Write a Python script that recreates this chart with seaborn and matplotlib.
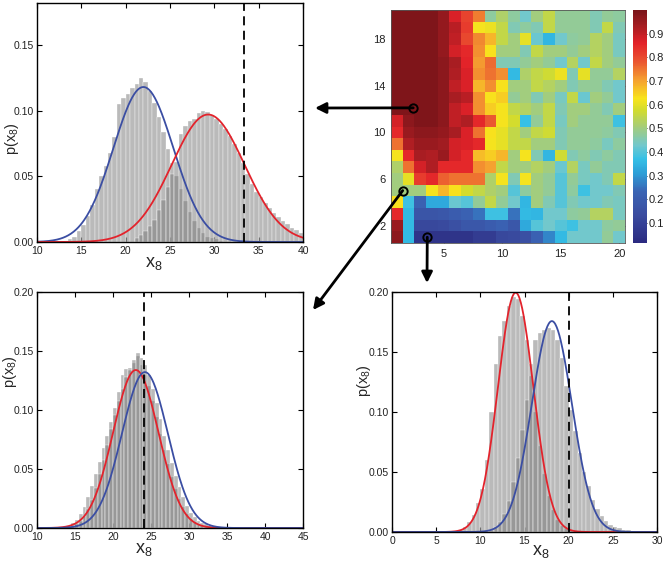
import numpy as np
import matplotlib
matplotlib.use('Agg')
import matplotlib.pyplot as plt
from matplotlib.colors import LinearSegmentedColormap
import seaborn as sns

# heatmap values, rows from y=20 (top) down to y=1, columns x=1..20
hm_rows = [
    [0.99, 0.99, 0.99, 0.99, 0.96, 0.87, 0.81, 0.74, 0.47, 0.52, 0.47, 0.43, 0.50, 0.55, 0.48, 0.48, 0.48, 0.45, 0.48, 0.47],
    [0.99, 0.99, 0.99, 0.99, 0.96, 0.91, 0.82, 0.62, 0.61, 0.55, 0.45, 0.47, 0.45, 0.55, 0.48, 0.48, 0.48, 0.45, 0.55, 0.45],
    [0.99, 0.99, 0.99, 0.99, 0.96, 0.90, 0.80, 0.73, 0.68, 0.55, 0.50, 0.60, 0.42, 0.35, 0.43, 0.47, 0.48, 0.53, 0.50, 0.44],
    [0.99, 0.99, 0.99, 0.99, 0.96, 0.88, 0.85, 0.72, 0.63, 0.50, 0.50, 0.45, 0.55, 0.50, 0.50, 0.48, 0.50, 0.53, 0.50, 0.44],
    [0.99, 0.99, 0.99, 0.99, 0.97, 0.93, 0.86, 0.71, 0.76, 0.45, 0.45, 0.48, 0.50, 0.48, 0.43, 0.53, 0.43, 0.55, 0.50, 0.48],
    [0.99, 0.99, 0.99, 0.99, 0.97, 0.92, 0.87, 0.72, 0.75, 0.72, 0.36, 0.52, 0.55, 0.57, 0.61, 0.45, 0.60, 0.48, 0.48, 0.53],
    [0.99, 0.99, 0.99, 0.99, 0.97, 0.90, 0.87, 0.68, 0.72, 0.63, 0.50, 0.50, 0.55, 0.53, 0.50, 0.45, 0.48, 0.48, 0.45, 0.43],
    [0.99, 0.99, 0.99, 0.99, 0.97, 0.93, 0.91, 0.72, 0.63, 0.65, 0.48, 0.50, 0.45, 0.50, 0.44, 0.55, 0.42, 0.50, 0.48, 0.43],
    [0.99, 0.99, 0.99, 0.99, 0.97, 0.90, 0.87, 0.72, 0.65, 0.62, 0.55, 0.53, 0.50, 0.55, 0.45, 0.50, 0.50, 0.48, 0.45, 0.50],
    [0.88, 0.97, 0.99, 0.99, 0.97, 0.90, 0.92, 0.85, 0.78, 0.62, 0.58, 0.37, 0.48, 0.55, 0.44, 0.50, 0.48, 0.48, 0.48, 0.38],
    [0.85, 0.95, 0.97, 0.97, 0.96, 0.93, 0.87, 0.75, 0.63, 0.60, 0.55, 0.50, 0.55, 0.57, 0.45, 0.48, 0.48, 0.48, 0.47, 0.45],
    [0.75, 0.92, 0.95, 0.95, 0.94, 0.88, 0.87, 0.85, 0.62, 0.60, 0.55, 0.55, 0.50, 0.50, 0.45, 0.48, 0.48, 0.47, 0.44, 0.47],
    [0.62, 0.85, 0.93, 0.92, 0.95, 0.88, 0.85, 0.67, 0.65, 0.68, 0.50, 0.62, 0.45, 0.35, 0.57, 0.45, 0.47, 0.45, 0.47, 0.45],
    [0.52, 0.75, 0.88, 0.92, 0.85, 0.85, 0.85, 0.72, 0.70, 0.55, 0.50, 0.50, 0.53, 0.50, 0.42, 0.53, 0.44, 0.48, 0.45, 0.45],
    [0.50, 0.60, 0.82, 0.85, 0.77, 0.75, 0.75, 0.75, 0.52, 0.62, 0.45, 0.62, 0.50, 0.48, 0.40, 0.48, 0.44, 0.43, 0.45, 0.55],
    [0.50, 0.50, 0.50, 0.62, 0.68, 0.63, 0.58, 0.55, 0.52, 0.50, 0.40, 0.47, 0.50, 0.48, 0.40, 0.47, 0.38, 0.43, 0.43, 0.45],
    [0.63, 0.38, 0.22, 0.33, 0.33, 0.42, 0.40, 0.48, 0.55, 0.48, 0.43, 0.35, 0.50, 0.45, 0.40, 0.45, 0.43, 0.43, 0.45, 0.44],
    [0.85, 0.36, 0.17, 0.17, 0.18, 0.20, 0.22, 0.25, 0.38, 0.38, 0.25, 0.36, 0.35, 0.43, 0.43, 0.47, 0.48, 0.53, 0.53, 0.44],
    [0.95, 0.36, 0.12, 0.12, 0.13, 0.15, 0.18, 0.18, 0.20, 0.22, 0.18, 0.33, 0.40, 0.43, 0.40, 0.38, 0.43, 0.43, 0.47, 0.48],
    [0.97, 0.36, 0.05, 0.05, 0.05, 0.05, 0.05, 0.08, 0.08, 0.12, 0.13, 0.15, 0.22, 0.28, 0.36, 0.43, 0.43, 0.43, 0.48, 0.43],
]
hm_xticks = [5, 10, 15, 20]
hm_yticks = [2, 6, 10, 14, 18]
cbar_ticks = [0.1, 0.2, 0.3, 0.4, 0.5, 0.6, 0.7, 0.8, 0.9]

# cells picked out on the heatmap (x, y), one per histogram panel
sel_x = [2.4, 1.5, 3.6]
sel_y = [12.1, 5.0, 1.0]

bin_w = 0.5

# top left panel
a_start = [13.0, 21.0]
a_hist_1 = [0.001, 0.002, 0.004, 0.008, 0.013, 0.020, 0.028, 0.040, 0.050, 0.058, 0.068, 0.080,
            0.105, 0.110, 0.113, 0.117, 0.120, 0.125, 0.122, 0.115, 0.106, 0.095, 0.084, 0.071,
            0.060, 0.050, 0.040, 0.031, 0.023, 0.016, 0.011, 0.007, 0.004, 0.003, 0.002, 0.001]
a_hist_2 = [0.003, 0.005, 0.008, 0.012, 0.017, 0.024, 0.032, 0.042, 0.052, 0.061, 0.082, 0.088,
            0.092, 0.094, 0.098, 0.100, 0.099, 0.097, 0.094, 0.090, 0.086, 0.081, 0.075, 0.068,
            0.060, 0.052, 0.044, 0.038, 0.034, 0.030, 0.026, 0.022, 0.019, 0.016, 0.014, 0.011,
            0.009, 0.007]
a_mu = [22.0, 29.3]
a_sd = [3.38, 4.11]
a_cut = 33.3

# bottom left panel
b_start = [14.0, 14.5]
b_hist_1 = [0.002, 0.004, 0.007, 0.012, 0.018, 0.026, 0.036, 0.046, 0.056, 0.068, 0.078, 0.090,
            0.102, 0.115, 0.130, 0.135, 0.136, 0.140, 0.146, 0.138, 0.130, 0.120, 0.108, 0.094,
            0.080, 0.066, 0.054, 0.043, 0.033, 0.025, 0.018, 0.012, 0.008, 0.005, 0.003, 0.002,
            0.001]
b_hist_2 = [0.002, 0.003, 0.006, 0.010, 0.016, 0.024, 0.034, 0.046, 0.058, 0.070, 0.084, 0.096,
            0.108, 0.118, 0.128, 0.134, 0.142, 0.148, 0.144, 0.138, 0.130, 0.118, 0.106, 0.092,
            0.078, 0.066, 0.055, 0.044, 0.035, 0.026, 0.019, 0.013, 0.009, 0.006, 0.004, 0.003,
            0.002, 0.002, 0.001]
b_mu = [23.0, 24.2]
b_sd = [2.98, 3.02]
b_cut = 24.1

# bottom right panel
c_start = [7.0, 11.0]
c_hist_1 = [0.001, 0.002, 0.004, 0.008, 0.014, 0.024, 0.036, 0.060, 0.100, 0.140, 0.163, 0.176,
            0.188, 0.196, 0.194, 0.180, 0.160, 0.130, 0.100, 0.072, 0.048, 0.030, 0.018, 0.010,
            0.005, 0.003, 0.001]
c_hist_2 = [0.002, 0.004, 0.008, 0.015, 0.026, 0.042, 0.062, 0.085, 0.110, 0.140, 0.160, 0.166,
            0.168, 0.170, 0.168, 0.160, 0.145, 0.122, 0.102, 0.084, 0.066, 0.050, 0.038, 0.027,
            0.019, 0.013, 0.009, 0.006, 0.004, 0.003, 0.002, 0.002, 0.001]
c_mu = [14.0, 18.1]
c_sd = [2.0, 2.27]
c_cut = 20.0

red = '#e3232c'
blue = '#3b4ea3'
grey = '#777777'

# jet-like map with the muted tones of the original colorbar
hm_cmap = LinearSegmentedColormap.from_list('mjet', [
    (0.00, '#2b2a80'), (0.12, '#3a4ca0'), (0.22, '#3a64b4'), (0.30, '#2c9fd8'),
    (0.36, '#35c0e6'), (0.42, '#72c8cc'), (0.50, '#a6cd78'), (0.57, '#d2dc2e'),
    (0.62, '#f8e41c'), (0.70, '#f5a030'), (0.78, '#ea5530'), (0.86, '#e32229'),
    (0.93, '#a81d22'), (1.00, '#7a1419')])

sns.set_style('ticks')
plt.rcParams.update({
    'font.family': ['Liberation Sans', 'DejaVu Sans'],
    'mathtext.fontset': 'custom',
    'mathtext.rm': 'Liberation Sans',
    'mathtext.it': 'Liberation Sans:italic',
    'xtick.direction': 'in', 'ytick.direction': 'in',
    'xtick.top': True, 'ytick.right': True,
    'xtick.major.size': 3.5, 'ytick.major.size': 3.5,
    'xtick.major.pad': 3, 'ytick.major.pad': 2.5,
    'axes.edgecolor': 'black', 'axes.linewidth': 1.0,
    'xtick.color': 'black', 'ytick.color': 'black',
    'xtick.labelcolor': '#222222', 'ytick.labelcolor': '#222222',
    'xtick.labelsize': 7.5, 'ytick.labelsize': 7.5,
})


def draw_panel(ax, starts, hists, mus, sds, colors, cut, xlim, ylim, xticks, yticks,
               xlab_pos, ylab_pos):
    for s, h in zip(starts, hists):
        centers = s + bin_w / 2 + bin_w * np.arange(len(h))
        sns.histplot(x=centers, weights=np.asarray(h), binwidth=bin_w,
                     binrange=(s, s + bin_w * len(h)), ax=ax, color=grey, alpha=0.5,
                     edgecolor='white', linewidth=0.25)
    xs = np.linspace(xlim[0], xlim[1], 400)
    for m, sd, c in zip(mus, sds, colors):
        pdf = np.exp(-0.5 * ((xs - m) / sd) ** 2) / (sd * np.sqrt(2 * np.pi))
        sns.lineplot(x=xs, y=pdf, ax=ax, color=c, lw=1.3)
    ax.axvline(cut, color='black', ls='--', lw=1.3, dashes=(5, 3))
    ax.set_xlim(xlim)
    ax.set_ylim(ylim)
    ax.set_xticks(list(xticks))
    ax.set_yticks(yticks)
    ax.set_yticklabels(['%.2f' % v for v in yticks])
    ax.set_xlabel(r'$\mathrm{x_8}$', fontsize=13, va='center')
    ax.set_ylabel(r'$\mathrm{p(x_8)}$', fontsize=10.5, va='center')
    ax.xaxis.set_label_coords(*xlab_pos)
    ax.yaxis.set_label_coords(*ylab_pos)
    for s in ax.spines.values():
        s.set_visible(True)


fig = plt.figure(figsize=(6.67, 5.62), dpi=100)
W, H = 667.0, 562.0


def px_axes(x0, y0, x1, y1):
    return fig.add_axes([x0 / W, 1 - y1 / H, (x1 - x0) / W, (y1 - y0) / H])


ax_a = px_axes(37, 3, 303, 242)
ax_hm = px_axes(391, 10, 625, 243)
cax = px_axes(633, 10, 647, 243)
ax_b = px_axes(37, 292, 303, 528)
ax_c = px_axes(392, 292, 657, 532)

draw_panel(ax_a, a_start, [a_hist_1, a_hist_2], a_mu, a_sd, [blue, red], a_cut,
           (10, 40), (0, 0.182), range(10, 41, 5), [0.0, 0.05, 0.10, 0.15],
           (0.44, -0.09), (-0.094, 0.43))
draw_panel(ax_b, b_start, [b_hist_1, b_hist_2], b_mu, b_sd, [red, blue], b_cut,
           (10, 45), (0, 0.20), range(10, 46, 5), [0.0, 0.05, 0.10, 0.15, 0.20],
           (0.40, -0.092), (-0.10, 0.66))
draw_panel(ax_c, c_start, [c_hist_1, c_hist_2], c_mu, c_sd, [red, blue], c_cut,
           (0, 30), (0, 0.20), range(0, 31, 5), [0.0, 0.05, 0.10, 0.15, 0.20],
           (0.56, -0.08), (-0.105, 0.63))

# heatmap
sns.heatmap(np.array(hm_rows), ax=ax_hm, cmap=hm_cmap, vmin=0.015, vmax=1.0,
            cbar_ax=cax, cbar_kws={'ticks': cbar_ticks},
            xticklabels=False, yticklabels=False)
ax_hm.set_xticks([v - 0.5 for v in hm_xticks])
ax_hm.set_xticklabels([str(v) for v in hm_xticks], fontsize=8)
ax_hm.set_yticks([20.5 - v for v in hm_yticks])
ax_hm.set_yticklabels([str(v) for v in hm_yticks], fontsize=8, rotation=0)
ax_hm.tick_params(length=2.5, width=0.6, color='#333333', top=True, right=True,
                  direction='in', pad=4)
for s in ax_hm.spines.values():
    s.set_visible(True)
    s.set_linewidth(0.6)
    s.set_color('#555555')
cax.tick_params(labelsize=8, length=2, width=0.6, direction='in', left=False, right=True,
                pad=1.5)
cax.set_yticks(cbar_ticks)
cax.set_yticklabels(['%.1f' % v for v in cbar_ticks])

# arrows from the picked cells to their panels
tips = [(315 / W, 1 - 108 / H), (313 / W, 1 - 310 / H), (427 / W, 1 - 283 / H)]
for sx, sy, tip in zip(sel_x, sel_y, tips):
    hx, hy = sx - 0.5, 20.5 - sy
    ax_hm.annotate('', xy=tip, xycoords='figure fraction', xytext=(hx, hy), textcoords='data',
                   arrowprops=dict(arrowstyle='-|>', lw=2, color='black', mutation_scale=16,
                                   shrinkA=0, shrinkB=0),
                   annotation_clip=False)
    ax_hm.plot(hx, hy, 'o', mfc='none', mec='black', ms=6, mew=1.4, clip_on=False, zorder=5)

fig.savefig('out.png', dpi=100)
